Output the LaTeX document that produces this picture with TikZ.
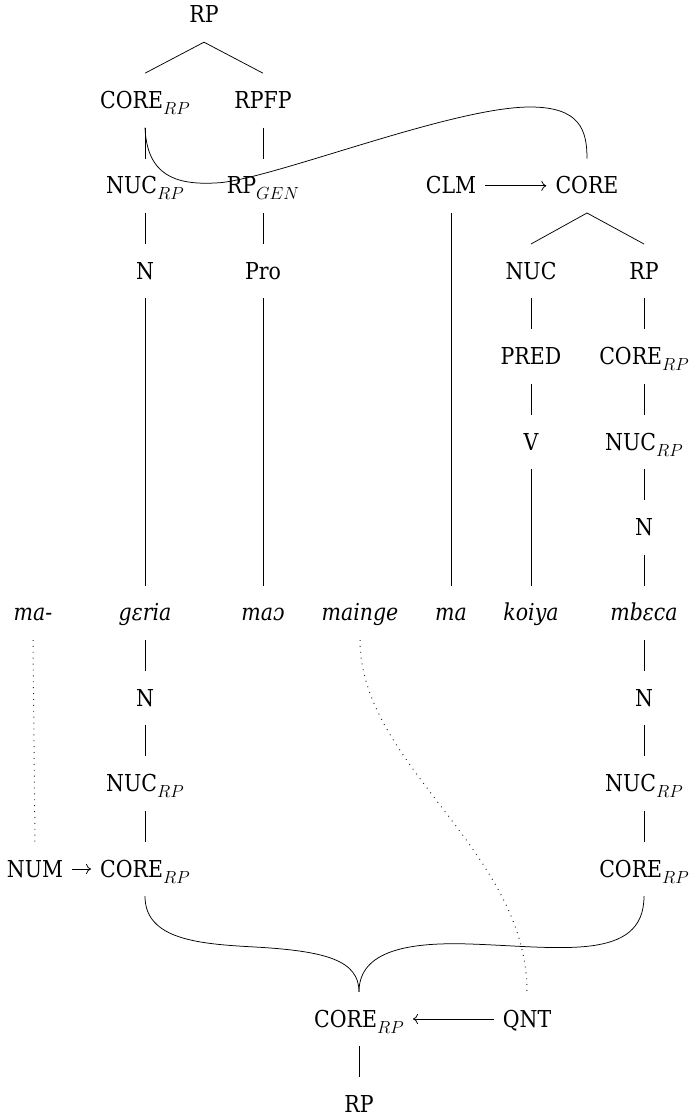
\RequirePackage{fix-cm}
\documentclass[tikz,border=0pt]{standalone}
\usepackage{fontspec}
\setmainfont{DejaVu Serif}[FakeStretch=0.88]
\usetikzlibrary{arrows.meta}
% subscript index set in math italic
\newcommand\idx[1]{\raisebox{-6pt}{\fontsize{17.5}{20}\selectfont$#1$}}

\begin{document}
\begin{tikzpicture}[x=1pt,y=-1pt,
  lbl/.style={font=\fontsize{23.3}{28}\selectfont, text height=18pt, text depth=2pt,
              inner xsep=9pt, inner ysep=17pt, anchor=base},
  wrd/.style={lbl, font=\fontsize{23.3}{28}\selectfont\itshape},
  edge/.style={line width=0.75pt},
  dots/.style={line width=1pt, dash pattern=on 0.9pt off 5pt, black!85},
  arr/.style={line width=0.75pt, -{To[length=5pt,width=10pt]}}
]
\useasboundingbox (0,0) rectangle (692,1118);

% upper RP tree
\node[lbl] (top)   at (204,23)      {RP};
\node[lbl] (coreA) at (145,108.4)   {CORE\idx{RP}};
\node[lbl] (rpfp)  at (263,108.4)   {RPFP};
\node[lbl] (nucA)  at (145,193.8)   {NUC\idx{RP}};
\node[lbl] (rpgen) at (263,193.8)   {RP\idx{GEN}};
\node[lbl] (nA)    at (145,279.2)   {N};
\node[lbl] (pro)   at (263,279.2)   {Pro};

% clause core
\node[lbl] (clm)   at (451,193.8)   {CLM};
\node[lbl] (core)  at (587,193.8)   {CORE};
\node[lbl] (nuc)   at (531,279.2)   {NUC};
\node[lbl] (rpB)   at (644,279.2)   {RP};
\node[lbl] (pred)  at (531,364.6)   {PRED};
\node[lbl] (coreB) at (644,364.6)   {CORE\idx{RP}};
\node[lbl] (v)     at (531,450)     {V};
\node[lbl] (nucB)  at (644,450)     {NUC\idx{RP}};
\node[lbl] (nB)    at (644,535.4)   {N};

% the sentence
\node[wrd] (w1) at (33,620.8)  {ma-};
\node[wrd] (w2) at (145,620.8) {gɛria};
\node[wrd] (w3) at (263,620.8) {maɔ};
\node[wrd] (w4) at (360,620.8) {mainge};
\node[wrd] (w5) at (451,620.8) {ma};
\node[wrd] (w6) at (531,620.8) {koiya};
\node[wrd] (w7) at (644,620.8) {mbɛca};

% lower RP structure
\node[lbl] (nC)    at (145,706.2)   {N};
\node[lbl] (nD)    at (644,706.2)   {N};
\node[lbl] (nucC)  at (145,791.6)   {NUC\idx{RP}};
\node[lbl] (nucD)  at (644,791.6)   {NUC\idx{RP}};
\node[lbl] (num)   at (35,877)      {NUM};
\node[lbl] (coreC) at (145,877)     {CORE\idx{RP}};
\node[lbl] (coreD) at (644,877)     {CORE\idx{RP}};
\node[lbl] (coreE) at (359,1027)    {CORE\idx{RP}};
\node[lbl] (qnt)   at (527,1027)    {QNT};
\node[lbl] (rpE)   at (359,1112)    {RP};

% branches
\draw[edge] (coreA.north) -- (top.south) -- (rpfp.north);
\draw[edge] (nuc.north) -- (core.south) -- (rpB.north);

% straight dominance lines
\foreach \a/\b in {coreA/nucA, rpfp/rpgen, nucA/nA, rpgen/pro, nA/w2, pro/w3,
                   clm/w5, nuc/pred, pred/v, v/w6, rpB/coreB, coreB/nucB,
                   nucB/nB, nB/w7, w2/nC, nC/nucC, nucC/coreC,
                   w7/nD, nD/nucD, nucD/coreD, coreE/rpE}
  \draw[edge] (\a.south) -- (\b.north);

% operator links
\draw[dots] (w1.south) -- (num.north);
\draw[dots] (w4.south) .. controls (360,765) and (527,850) .. (qnt.north);

% arrows
\draw[arr] (clm.east) -- (core.west);
\draw[arr] (num.east) -- (coreC.west);
\draw[arr] (qnt.west) -- (coreE.east);

% possessor core linked to the clause core
\draw[edge] (coreA.south) .. controls (147,175) and (175,185) .. (215,183)
            .. controls (265,182) and (450,107) .. (530,107)
            .. controls (580,107) and (587,130) .. (core.north);

% the two RP cores joining
\draw[edge] (coreC.south) .. controls (145,940) and (200,944) .. (255,947)
            .. controls (325,951) and (359,960) .. (coreE.north);
\draw[edge] (coreE.north) .. controls (359,950) and (410,942) .. (470,944)
            .. controls (560,947) and (644,962) .. (coreD.south);
\end{tikzpicture}
\end{document}
